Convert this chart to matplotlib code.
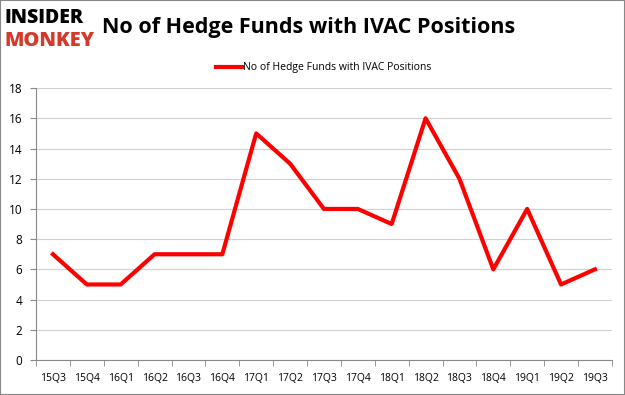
import numpy as np
import matplotlib
matplotlib.use("Agg")
import matplotlib.pyplot as plt
from matplotlib.patches import Rectangle

quarters = ["15Q3", "15Q4", "16Q1", "16Q2", "16Q3", "16Q4", "17Q1", "17Q2", "17Q3",
            "17Q4", "18Q1", "18Q2", "18Q3", "18Q4", "19Q1", "19Q2", "19Q3"]
funds = [7, 5, 5, 7, 7, 7, 15, 13, 10, 10, 9, 16, 12, 6, 10, 5, 6]
series_name = "No of Hedge Funds with IVAC Positions"
yticks = [0, 2, 4, 6, 8, 10, 12, 14, 16, 18]

plt.rcParams["font.family"] = ["Open Sans", "DejaVu Sans"]

fig = plt.figure(figsize=(6.25, 3.95), dpi=100)
ax = fig.add_axes([0.0576, 0.0886, 0.9214, 0.6884])

x = np.arange(len(quarters))
ax.plot(x, funds, color="#ff0000", linewidth=3, label=series_name)

ax.set_xlim(-0.5, len(quarters) - 0.5)
ax.set_ylim(0, 18)
ax.set_yticks(yticks)
ax.set_xticks(x)
ax.set_xticklabels(quarters, fontsize=7.5)
ax.set_xticks(np.arange(-0.5, len(quarters)), minor=True)
ax.tick_params(axis="x", which="major", length=0, pad=9)
ax.tick_params(axis="x", which="minor", length=4, color="#888888")
ax.tick_params(axis="y", length=4, color="#888888", labelsize=8.5, pad=6)

ax.grid(axis="y", color="#d0d0d0", linewidth=0.8)
ax.set_axisbelow(True)
for s in ["top", "right"]:
    ax.spines[s].set_visible(False)
ax.spines["left"].set_color("#888888")
ax.spines["bottom"].set_color("#888888")

ax.legend(loc="lower center", bbox_to_anchor=(0.5, 1.02), frameon=False,
          fontsize=7.5, handlelength=2.5, handletextpad=0.1)

fig.text(0.163, 0.93, "No of Hedge Funds with IVAC Positions", fontsize=15.5,
         fontweight="bold", va="center", ha="left")
fig.text(0.008, 0.955, "INSIDER", fontsize=14, fontweight="heavy", color="black",
         va="center", ha="left", stretch="condensed")
fig.text(0.008, 0.895, "MONKEY", fontsize=14.5, fontweight="heavy", color="#d33a2c",
         va="center", ha="left")

fig.patches.append(Rectangle((0, 0), 1, 1, transform=fig.transFigure, fill=False,
                             edgecolor="#888888", linewidth=1.5))

fig.savefig("out.png", dpi=100)
